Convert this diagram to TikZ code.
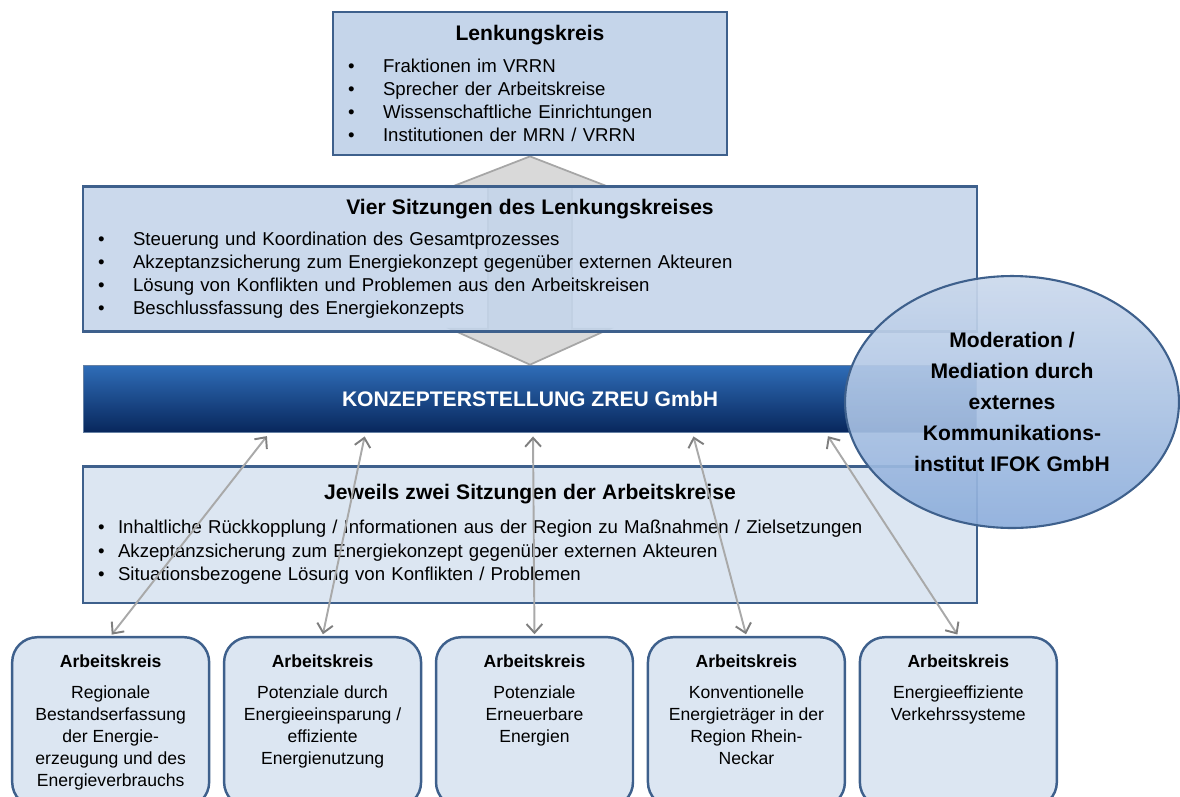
\documentclass[tikz,border=0pt]{standalone}
\usepackage{fontspec}
\setmainfont{Liberation Sans}
\usetikzlibrary{shapes,arrows.meta,positioning,calc,backgrounds}

\definecolor{kfill}{HTML}{C5D5EA}
\definecolor{kline}{HTML}{3E608C}
\definecolor{afill}{HTML}{DCE6F2}
\definecolor{bartop}{HTML}{2F6DB8}
\definecolor{barbot}{HTML}{08275C}
\definecolor{modtop}{HTML}{CBD9EC}
\definecolor{modbot}{HTML}{8CADDB}
\definecolor{pfeil}{HTML}{D9D9D9}
\definecolor{pfeilrand}{HTML}{A6A6A6}
\definecolor{linkgray}{HTML}{A9A9A9}
\definecolor{tipgray}{HTML}{7F7F7F}

\newcommand{\ktitle}[1]{\makebox[\hsize]{\fontsize{12}{14}\bfseries #1}}
\newcommand{\bul}[1]{\makebox[#1][l]{•}}

\tikzstyle{kreis}=[rectangle,draw=kline,line width=1.6pt,fill=kfill,align=left,inner xsep=0.3cm,inner ysep=0pt,font=\fontsize{10.6}{13.1}\selectfont]
\tikzstyle{lenk}=[kreis,text width=7.28cm,minimum height=2.86cm]
\tikzstyle{sitz}=[kreis,text width=17.28cm,minimum height=2.9cm,fill opacity=0.9,text opacity=1]
\tikzstyle{jew}=[kreis,fill=afill,text width=17.28cm,minimum height=2.74cm,font=\fontsize{10.6}{13.4}\selectfont]
\tikzstyle{zreu}=[rectangle,draw=kline!80,line width=0.6pt,top color=bartop,bottom color=barbot,minimum width=17.88cm,minimum height=1.34cm,text=white,font=\fontsize{12}{14}\bfseries]
\tikzstyle{ak}=[rectangle,draw=kline,line width=1.4pt,rounded corners=0.5cm,fill=afill,minimum width=3.94cm,minimum height=3.4cm]
\tikzstyle{aktext}=[align=center,inner sep=0pt,font=\fontsize{10}{12.5}\selectfont]
\tikzstyle{mod}=[ellipse,draw=kline,line width=1.2pt,top color=modtop,bottom color=modbot,fill opacity=0.92,text opacity=1,minimum width=6.68cm,minimum height=5.04cm,align=center,font=\fontsize{12}{17.6}\bfseries]
\tikzstyle{blockarr}=[fill=pfeil,draw=pfeilrand,line width=1pt,line join=miter]
\tikzstyle{link}=[<->,>={Straight Barb[length=5pt,width=9pt,color=tipgray]},draw=linkgray,line width=1.1pt,shorten <=1pt,shorten >=1pt]

\begin{document}
\begin{tikzpicture}[x=0.02cm,y=-0.02cm,node distance=0.64cm]
\useasboundingbox (0,0) rectangle (1180,796);

\node[lenk] (lk) at (530,83.5) {\ktitle{Lenkungskreis}\\[5pt]
  \bul{0.7cm}Fraktionen im VRRN\\
  \bul{0.7cm}Sprecher der Arbeitskreise\\
  \bul{0.7cm}Wissenschaftliche Einrichtungen\\
  \bul{0.7cm}Institutionen der MRN / VRRN};
\node[sitz, below=0.57cm of lk] (vier) {\ktitle{Vier Sitzungen des Lenkungskreises}\\[4.5pt]
  \bul{0.7cm}Steuerung und Koordination des Gesamtprozesses\\
  \bul{0.7cm}Akzeptanzsicherung zum Energiekonzept gegenüber externen Akteuren\\
  \bul{0.7cm}Lösung von Konflikten und Problemen aus den Arbeitskreisen\\
  \bul{0.7cm}Beschlussfassung des Energiekonzepts};
\node[zreu, below=of vier] (bar) {KONZEPTERSTELLUNG ZREU GmbH};
\node[jew, below=of bar] (jew) {\ktitle{Jeweils zwei Sitzungen der Arbeitskreise}\\[6pt]
  \bul{0.4cm}Inhaltliche Rückkopplung / Informationen aus der Region zu Maßnahmen / Zielsetzungen\\
  \bul{0.4cm}Akzeptanzsicherung zum Energiekonzept gegenüber externen Akteuren\\
  \bul{0.4cm}Situationsbezogene Lösung von Konflikten / Problemen};

% grosser Doppelpfeil hinter den Sitzungen
\begin{scope}[on background layer]
\coordinate (ta) at (lk.south);
\draw[blockarr] (ta) -- ++(80,31) -- ++(-38,0) -- ($(bar.north)+(42,-36)$) -- ++(38,0)
  -- (bar.north) -- ++(-80,-36) -- ++(38,0) -- ($(ta)+(-42,31)$) -- ++(-38,0) -- cycle;
\end{scope}

% Arbeitskreise
\node[ak, below=0.63cm of jew, xshift=0.09cm] (ak3) {};
\node[ak, left=0.25cm of ak3] (ak2) {};
\node[ak, left=0.25cm of ak2] (ak1) {};
\node[ak, right=0.25cm of ak3] (ak4) {};
\node[ak, right=0.25cm of ak4] (ak5) {};
\node[aktext, below=0.37cm of ak1.north] (ak1t) {\textbf{Arbeitskreis}\\[5pt]Regionale\\Bestandserfassung\\der Energie-\\erzeugung und des\\Energieverbrauchs};
\node[aktext, below=0.37cm of ak2.north] (ak2t) {\textbf{Arbeitskreis}\\[5pt]Potenziale durch\\Energieeinsparung /\\effiziente\\Energienutzung};
\node[aktext, below=0.37cm of ak3.north] (ak3t) {\textbf{Arbeitskreis}\\[5pt]Potenziale\\Erneuerbare\\Energien};
\node[aktext, below=0.37cm of ak4.north] (ak4t) {\textbf{Arbeitskreis}\\[5pt]Konventionelle\\Energieträger in der\\Region Rhein-\\Neckar};
\node[aktext, below=0.37cm of ak5.north] (ak5t) {\textbf{Arbeitskreis}\\[5pt]Energieeffiziente\\Verkehrssysteme};

\draw[link] ($(bar.south)+(-262,2)$) -- (ak1.north);
\draw[link] ($(bar.south)+(-165,2)$) -- (ak2.north);
\draw[link] ($(bar.south)+(3,2)$) -- (ak3.north);
\draw[link] ($(bar.south)+(163,2)$) -- (ak4.north);
\draw[link] ($(bar.south)+(297,2)$) -- (ak5.north);

\node[mod] (ifok) at (1012,402) {Moderation /\\Mediation durch\\externes\\Kommunikations-\\institut IFOK GmbH};
\end{tikzpicture}
\end{document}
